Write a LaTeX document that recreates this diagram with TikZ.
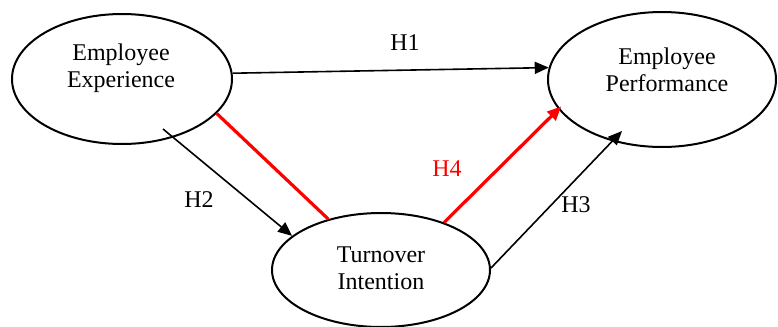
\documentclass[tikz,border=0pt]{standalone}
\usepackage{fontspec}
\setmainfont{Liberation Serif}
\usetikzlibrary{shapes.geometric,arrows.meta}
\begin{document}
\begin{tikzpicture}[x=0.5pt,y=-0.5pt,
  construct/.style={draw=black,line width=1pt,ellipse,inner sep=0pt},
  txt/.style={font=\fontsize{12}{13.5}\selectfont,align=center,inner sep=0pt},
  blk/.style={draw=black,line width=0.8pt},
  redl/.style={draw=red,line width=1.6pt},
  tip/.style={-{Triangle[length=7pt,width=6pt]}},
  hyp/.style={font=\fontsize{12}{13.5}\selectfont,inner sep=0pt}]
\useasboundingbox (0,0) rectangle (778,327);
\node[construct,minimum width=110pt,minimum height=65pt] (ee) at (122,79) {};
\node[construct,minimum width=114pt,minimum height=67.5pt] (ep) at (662,79.5) {};
\node[construct,minimum width=109pt,minimum height=57pt] (ti) at (381,270) {};
\node[txt] (eet) at (121,68) {Employee\\Experience};
\node[txt] (ept) at (667,70) {Employee\\Performance};
\node[txt] (tit) at (381,268) {Turnover\\Intention};
\coordinate (h2s) at (163,129);
\coordinate (h3e) at (622,131);
\draw[blk,tip] (ee.3) -- (ep.174);
\draw[blk,tip] (h2s) -- (ti.159);
\draw[redl] (ee.-20) -- (ti.136);
\draw[redl,tip,shorten >=-2pt] (ti.37) -- (ep.-164);
\draw[blk,tip] (ti.1) -- (h3e);
\node[hyp] (h1) at (405,43) {H1};
\node[hyp] (h2) at (199,200) {H2};
\node[hyp] (h3) at (576,205) {H3};
\node[hyp,text=red] (h4) at (447,169) {H4};
\end{tikzpicture}
\end{document}
